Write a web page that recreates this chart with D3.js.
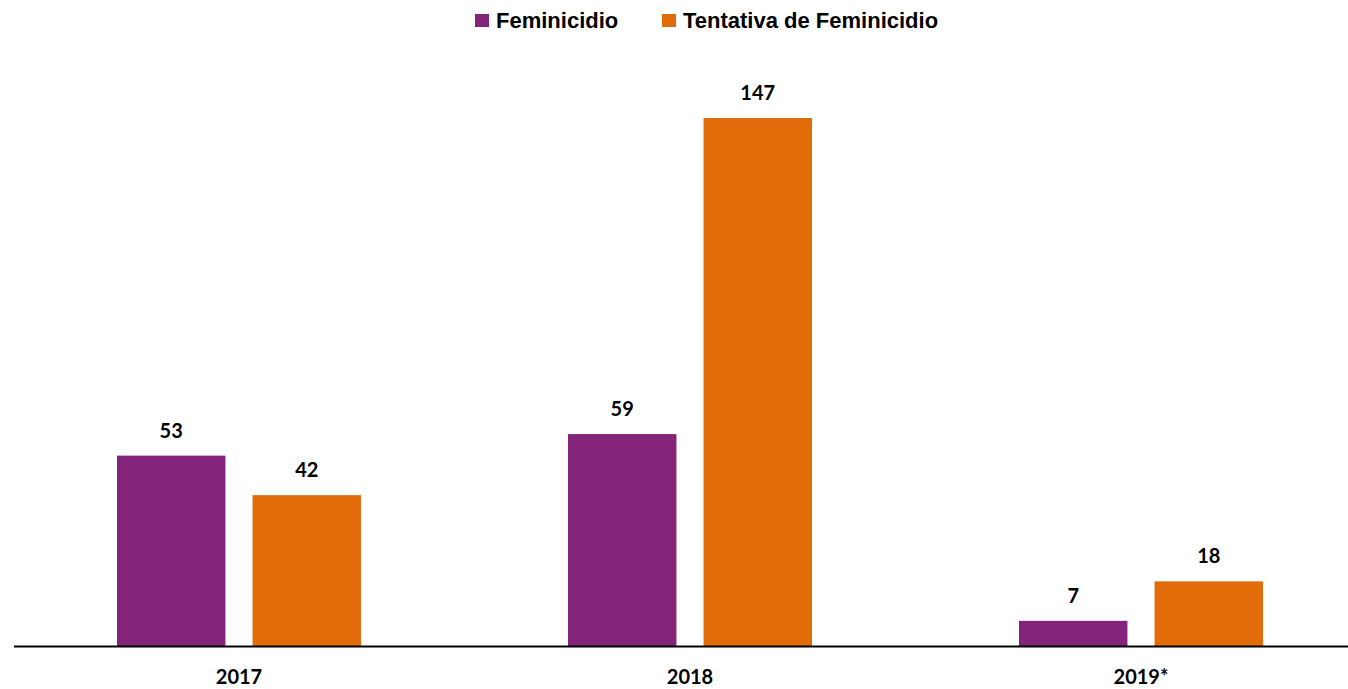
<!DOCTYPE html>
<html>
<head>
<meta charset="utf-8">
<script src="https://cdn.jsdelivr.net/npm/d3@7"></script>
<style>
  body { margin: 0; background: #fff; }
  .val, .x.axis text { font-family: Lato, "Open Sans", sans-serif; font-weight: bold; font-size: 20px; fill: #000; }
  .legend text { font-family: "Liberation Sans Narrow", "Liberation Sans", sans-serif; font-weight: bold; font-size: 22px; fill: #000; }
</style>
</head>
<body>
<svg id="chart"></svg>
<script>
const years = ['2017', '2018', '2019*'];
const seriesNames = ['Feminicidio', 'Tentativa de Feminicidio'];
const feminicidio = [53, 59, 7];
const tentativa = [42, 147, 18];
const colors = ['#84237A', '#E36C0A'];

const width = 1348;
const height = 689;
const baseline = 646;

const dataset = years.map((y, i) => ({
  year: y,
  values: [
    { key: seriesNames[0], value: feminicidio[i] },
    { key: seriesNames[1], value: tentativa[i] }
  ]
}));

const x0 = d3.scaleBand()
  .domain(years)
  .range([13.5, 13.5 + 451 * 3])
  .paddingInner(0.459)
  .paddingOuter(0.2295);

const x1 = d3.scaleBand()
  .domain(seriesNames)
  .range([0, x0.bandwidth()])
  .paddingInner(0.2);

const yScale = d3.scaleLinear()
  .domain([0, 147])
  .range([baseline, 118]);

const color = d3.scaleOrdinal().domain(seriesNames).range(colors);

const svg = d3.select('#chart')
  .attr('width', width)
  .attr('height', height);

// bars
const groups = svg.selectAll('.group')
  .data(dataset)
  .enter().append('g')
    .attr('class', 'group')
    .attr('transform', d => 'translate(' + x0(d.year) + ',0)');

groups.selectAll('rect')
  .data(d => d.values)
  .enter().append('rect')
    .attr('x', d => x1(d.key))
    .attr('width', x1.bandwidth())
    .attr('y', d => yScale(d.value))
    .attr('height', d => baseline - yScale(d.value))
    .attr('fill', d => color(d.key));

groups.selectAll('.val')
  .data(d => d.values)
  .enter().append('text')
    .attr('class', 'val')
    .attr('x', d => x1(d.key) + x1.bandwidth() / 2)
    .attr('y', d => yScale(d.value) - 18)
    .attr('text-anchor', 'middle')
    .text(d => d.value);

// x axis
const xAxis = d3.axisBottom(x0).tickSize(0).tickPadding(24);
const ax = svg.append('g')
  .attr('class', 'x axis')
  .attr('transform', 'translate(0,' + baseline + ')')
  .call(xAxis);
ax.select('.domain').attr('stroke', '#000').attr('stroke-width', 2);
ax.selectAll('text').attr('font-family', null).attr('font-size', null);

// legend
const legendX = [475, 662];
const legend = svg.append('g').attr('class', 'legend');
const items = legend.selectAll('g')
  .data(seriesNames)
  .enter().append('g')
    .attr('transform', (d, i) => 'translate(' + legendX[i] + ',0)');
items.append('rect')
  .attr('x', 0).attr('y', 14)
  .attr('width', 14).attr('height', 13)
  .attr('fill', d => color(d));
items.append('text')
  .attr('x', 21).attr('y', 28)
  .text(d => d);
</script>
</body>
</html>
